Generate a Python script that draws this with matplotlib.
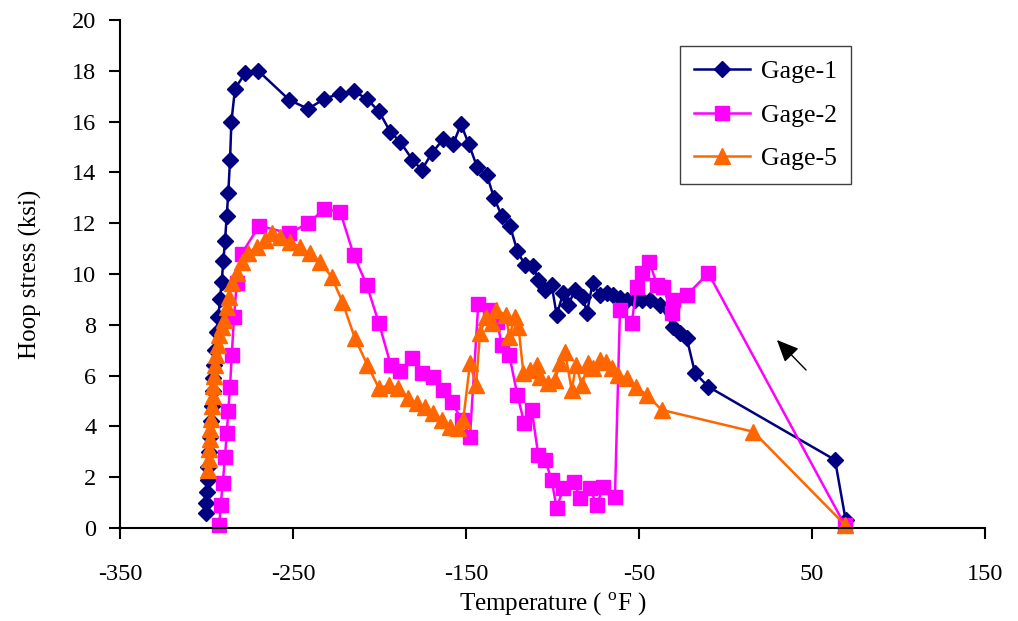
import matplotlib
matplotlib.use("Agg")
import matplotlib.pyplot as plt

plt.rcParams['font.family'] = ['Liberation Serif', 'DejaVu Serif']
plt.rcParams['mathtext.fontset'] = 'custom'
plt.rcParams['mathtext.rm'] = 'Liberation Serif'
plt.rcParams['axes.unicode_minus'] = False

# Gage-1
x1 = [-300.5, -300.2, -299.8, -299.4, -299.0, -298.5, -298.0, -297.5, -297.0, -296.5,
      -296.0, -295.5, -295.1, -294.1, -293.2, -292.2, -291.2, -290.3, -289.3, -288.3,
      -287.4, -286.4, -285.6, -283.5, -277.7, -270.1, -252.1, -241.2, -231.9, -222.7,
      -214.9, -207.4, -200.3, -193.8, -188.0, -181.0, -175.6, -169.7, -163.3, -157.5,
      -152.9, -148.3, -143.5, -138.0, -133.8, -129.4, -124.6, -120.3, -115.9, -111.1,
      -108.2, -104.3, -100.5, -97.6, -93.8, -90.9, -87.0, -82.2, -80.2, -76.8,
      -72.5, -68.7, -64.8, -61.0, -57.1, -52.3, -48.4, -43.6, -37.9, -30.2,
      -26.3, -22.4, -17.6, -9.9, 63.3, 69.5]
y1 = [0.6, 1.0, 1.4, 1.9, 2.4, 3.0, 3.6, 4.2, 4.8, 5.4,
      5.9, 6.4, 7.0, 7.7, 8.3, 9.0, 9.7, 10.5, 11.3, 12.3,
      13.2, 14.5, 16.0, 17.3, 17.9, 18.0, 16.85, 16.5, 16.9, 17.1,
      17.2, 16.9, 16.4, 15.6, 15.2, 14.5, 14.1, 14.76, 15.3, 15.1,
      15.9, 15.1, 14.2, 13.9, 13.0, 12.3, 11.9, 10.9, 10.35, 10.3,
      9.76, 9.37, 9.57, 8.39, 9.24, 8.78, 9.37, 9.1, 8.45, 9.63,
      9.17, 9.24, 9.17, 9.04, 8.98, 8.98, 8.98, 8.98, 8.78, 7.93,
      7.67, 7.47, 6.1, 5.56, 2.68, 0.3]

# Gage-2
x2 = [-292.6, -291.8, -290.6, -289.3, -288.3, -287.4, -286.4, -285.4, -284.1, -282.5,
      -279.7, -269.5, -252.3, -241.2, -231.9, -222.7, -214.9, -207.4, -200.3, -193.5,
      -188.2, -181.0, -175.6, -168.9, -163.1, -158.3, -152.5, -147.7, -142.9, -136.1,
      -131.9, -129.4, -125.0, -120.3, -116.3, -112.0, -108.2, -104.3, -100.5, -97.6,
      -93.8, -87.6, -84.1, -78.3, -74.5, -70.6, -63.9, -61.0, -54.2, -51.4,
      -48.4, -44.1, -39.5, -36.0, -31.1, -30.2, -22.4, -9.9, 69.1]
y2 = [0.1, 0.9, 1.76, 2.8, 3.73, 4.62, 5.56, 6.8, 8.3, 9.66,
      10.8, 11.9, 11.6, 12.0, 12.55, 12.45, 10.75, 9.57, 8.06, 6.42,
      6.18, 6.68, 6.09, 5.96, 5.43, 4.97, 4.25, 3.6, 8.82, 8.58,
      8.12, 7.2, 6.81, 5.24, 4.12, 4.65, 2.87, 2.68, 1.89, 0.78,
      1.56, 1.82, 1.17, 1.56, 0.9, 1.63, 1.23, 8.58, 8.06, 9.5,
      10.03, 10.49, 9.57, 9.5, 8.45, 8.98, 9.17, 10.03, 0.1]

# Gage-5
x5 = [-299.0, -298.8, -298.5, -298.2, -297.8, -297.4, -297.0, -296.5, -296.0, -295.5,
      -295.0, -294.3, -293.5, -292.6, -291.2, -289.7, -288.3, -286.8, -285.4, -282.5,
      -279.7, -275.8, -271.0, -266.2, -262.3, -257.5, -251.7, -245.9, -240.2, -234.4,
      -227.6, -221.5, -214.2, -207.0, -200.3, -194.5, -189.1, -183.4, -178.1, -173.5,
      -168.9, -164.0, -159.2, -154.4, -151.6, -147.7, -144.2, -141.9, -138.4, -135.1,
      -132.7, -126.9, -125.0, -121.7, -119.7, -116.8, -113.0, -109.1, -107.2, -102.4,
      -98.6, -95.7, -92.8, -88.9, -86.4, -83.1, -79.3, -76.4, -72.5, -69.1,
      -65.8, -61.9, -57.1, -51.7, -45.6, -36.9, 16.1, 69.1]
y5 = [2.3, 2.7, 3.1, 3.5, 3.9, 4.3, 4.8, 5.2, 5.6, 6.0,
      6.4, 6.8, 7.2, 7.6, 7.9, 8.19, 8.71, 9.1, 9.63, 10.03,
      10.49, 10.81, 11.07, 11.34, 11.6, 11.47, 11.27, 11.05, 10.81, 10.49,
      9.87, 8.91, 7.47, 6.42, 5.5, 5.63, 5.5, 5.1, 4.91, 4.75,
      4.52, 4.25, 3.99, 3.93, 4.25, 6.48, 5.63, 7.66, 8.32, 8.06,
      8.58, 8.39, 7.53, 8.32, 7.93, 6.09, 6.22, 6.42, 5.96, 5.7,
      5.83, 6.48, 6.94, 5.43, 6.42, 5.63, 6.48, 6.29, 6.61, 6.55,
      6.29, 6.02, 5.89, 5.56, 5.24, 4.65, 3.79, 0.12]

series = [
    ("Gage-1", x1, y1, "#000080", "D", 8.5),
    ("Gage-2", x2, y2, "#FF00FF", "s", 10),
    ("Gage-5", x5, y5, "#FF6600", "^", 11),
]

fig = plt.figure(figsize=(10.18, 6.21), dpi=100)
ax = fig.add_axes([120/1018, (621-528)/621, (985-120)/1018, (528-20)/621])

for name, xs, ys, col, mk, ms in series:
    ax.plot(xs, ys, color=col, marker=mk, markersize=ms, linewidth=1.8,
            markeredgecolor=col, label=name, clip_on=False)

ax.set_xlim(-350, 150)
ax.set_ylim(0, 20)
ax.set_xticks([-350, -250, -150, -50, 50, 150])
ax.set_yticks(range(0, 21, 2))
ax.spines['top'].set_visible(False)
ax.spines['right'].set_visible(False)
for s in ('left', 'bottom'):
    ax.spines[s].set_linewidth(1.5)
ax.tick_params(axis='both', direction='out', length=8, width=1.5, labelsize=17.5)
ax.tick_params(axis='x', pad=18)
ax.tick_params(axis='y', pad=9)

ax.set_xlabel("Temperature ( $^{\\mathrm{o}}$F )", fontsize=18)
ax.xaxis.set_label_coords(0.5, (528 - 604) / 508)
ax.xaxis.label.set_va('center')
ax.set_ylabel("Hoop stress (ksi)", fontsize=18)
ax.yaxis.set_label_coords((30 - 120) / 865, 0.5)
ax.yaxis.label.set_va('center')

ax.annotate("", xy=(28.6, 7.48), xytext=(47.7, 6.14),
            arrowprops=dict(arrowstyle="-|>,head_length=0.9,head_width=0.4",
                            color="black", lw=1.0, mutation_scale=15))

leg = ax.legend(loc="upper left", bbox_to_anchor=(0.647, 0.949), borderaxespad=0,
                fontsize=18.5, fancybox=False, framealpha=1, edgecolor="#404040",
                handlelength=2.2, labelspacing=0.8, borderpad=0.55, handletextpad=0.4)
leg.get_frame().set_linewidth(1.0)

fig.savefig("out.png", dpi=100)
